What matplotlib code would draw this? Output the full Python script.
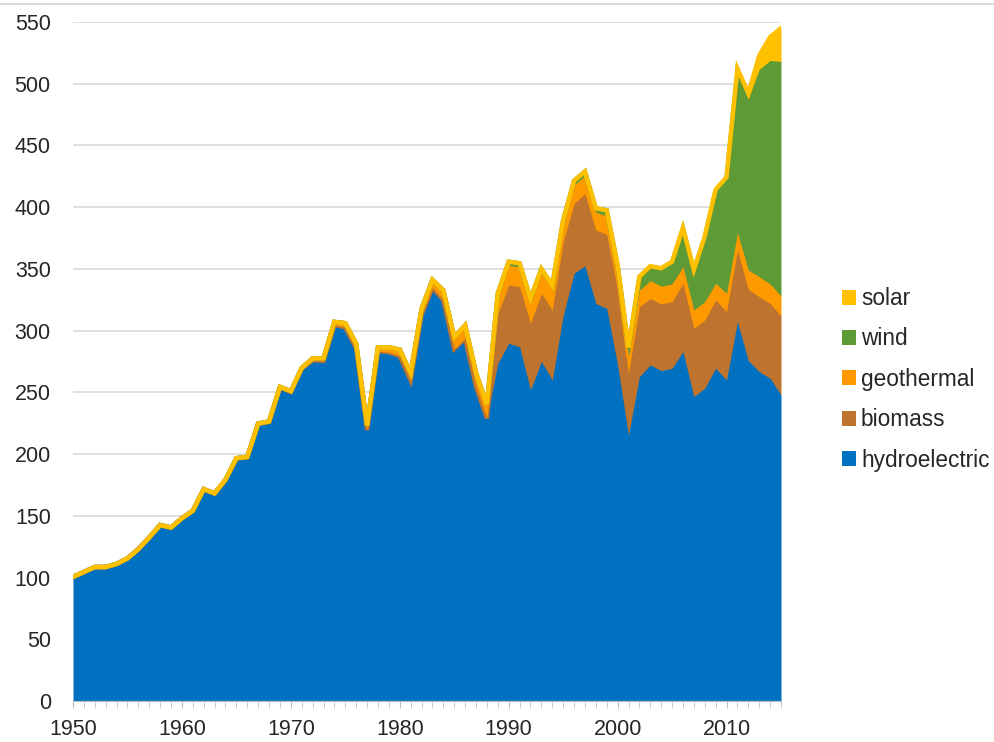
"""
US renewable electricity generation by source, 1950-2015 (stacked area)
"""
import numpy as np
import matplotlib
matplotlib.use("Agg")
import matplotlib.pyplot as plt
from matplotlib.patches import Patch
from matplotlib.lines import Line2D

plt.rcParams["font.family"] = ["Liberation Sans", "DejaVu Sans"]

# ── Data (billion kWh) ─────────────────────────────────────────────────────────
years = np.arange(1950, 2016)

hydro = [100.5, 104.5, 108.5, 108.5, 111, 115.5, 123, 132.5, 142.5, 140.5,      # 1950s
         148, 154, 171.5, 168, 179, 196.5, 197.5, 224.5, 226, 254,               # 1960s
         250.4, 269.3, 276, 275.6, 304.6, 302.8, 285.6, 219.5, 283.5, 282.6,     # 1970s
         279.5, 259.8, 312.7, 335, 324.8, 285.2, 293.8, 254.7, 229, 273.5,       # 1980s
         289.7, 287, 252, 275, 260, 312, 346.5, 352.4, 322, 318,                 # 1990s
         272, 215.5, 262.7, 272.2, 267.6, 269.5, 283, 246.5, 253.3, 269.5,       # 2000s
         260, 307.2, 275.7, 266.8, 261.4, 247.9]                                 # 2010s

biomass = [0] * 39 + [
         40,                                                                      # 1989
         47.3, 48.6, 54, 55, 56.7, 60, 56.5, 58.6, 59.5, 60,
         61, 49.9, 56.7, 53.8, 54, 54, 55.3, 55.3, 55.3, 55.3,
         55.4, 58.1, 57.8, 60.7, 60.6, 64]

geothermal = [0] * 10 + [
         0.03, 0.1, 0.1, 0.2, 0.3, 0.2, 0.2, 0.3, 0.4, 0.4,
         0.5, 0.5, 1.5, 2.0, 2.5, 3.2, 3.6, 3.6, 3.0, 3.9,
         5.1, 5.7, 4.8, 6.1, 7.7, 9.3, 10.3, 10.8, 10.3, 14.6,
         16, 16, 17, 17, 16.5, 14, 15, 14.5, 14.5, 15,
         14, 13.7, 13.4, 14.5, 14.4, 14.3, 13.5, 14.9, 14.9, 13.5,
         14.8, 14, 15.5, 16.2, 15.8, 16.1]

wind = [0] * 35 + [
         0.1, 0.2, 0.2, 0.9, 2.1,                                                 # 1985-89
         2.8, 3.0, 2.9, 3.0, 3.4, 3.2, 3.4, 3.3, 3.0, 4.5,
         5.6, 6.7, 10.4, 11.2, 14, 17.5, 31, 32, 52, 75,
         93, 131, 139, 168, 181, 190]

solar = [0] * 50 + [
         0.5, 0.5, 0.6, 0.5, 0.6, 0.6, 0.5, 0.6, 0.9, 1.0,
         1.2, 2.0, 4.3, 11, 19, 27]

labels = ["hydroelectric", "biomass", "geothermal", "wind", "solar"]
colors = ["#0070C0", "#BE742E", "#FF9900", "#5E9A35", "#FFC000"]

# ── Figure ─────────────────────────────────────────────────────────────────────
W, H = 994, 742
fig = plt.figure(figsize=(W / 100, H / 100), dpi=100, facecolor="white")
ax = fig.add_axes([73 / W, 1 - 701 / H, (781 - 73) / W, (701 - 22) / H])

# each series: fill, then its own border along the top edge
bottom = np.zeros(len(years))
for i, (vals, col) in enumerate(zip([hydro, biomass, geothermal, wind, solar], colors)):
    top = bottom + np.asarray(vals, dtype=float)
    ax.fill_between(years, bottom, top, color=col, lw=0, zorder=2 + 2 * i)
    ax.plot(years, top, color=col, lw=3.2, zorder=3 + 2 * i, solid_joinstyle="miter")
    bottom = top

ax.set_xlim(1950, 2015)
ax.set_ylim(0, 550)
ax.set_yticks(range(0, 551, 50))
ax.set_xticks(range(1950, 2016, 10))
ax.set_xticks(years, minor=True)

ax.yaxis.grid(True, color="#D9D9D9", linewidth=1.2, zorder=0)
ax.set_axisbelow(True)
for side in ["top", "right", "left"]:
    ax.spines[side].set_visible(False)
ax.spines["bottom"].set_color("#BFBFBF")
ax.spines["bottom"].set_zorder(20)

ax.tick_params(axis="y", length=0, pad=16, labelsize=15.5, labelcolor="#262626")
ax.tick_params(axis="x", which="both", direction="out", length=5, color="#BFBFBF",
               labelsize=15.5, labelcolor="#262626", pad=8)

# legend, listed top-down from the last stacked series
handles = [Patch(facecolor=c, edgecolor="none") for c in colors[::-1]]
fig.legend(handles, labels[::-1], loc="upper left",
           bbox_to_anchor=(842 / W, 1 - 287 / H), frameon=False,
           fontsize=16.3, handlelength=0.64, handleheight=0.64,
           handletextpad=0.2, labelspacing=0.77, borderpad=0, borderaxespad=0,
           labelcolor="#262626")

# thin frame line along the top of the canvas
fig.add_artist(Line2D([0, 1], [1 - 4 / H, 1 - 4 / H], transform=fig.transFigure,
                      color="#D9D9D9", lw=1.5))

fig.savefig("out.png", dpi=100, facecolor="white")
